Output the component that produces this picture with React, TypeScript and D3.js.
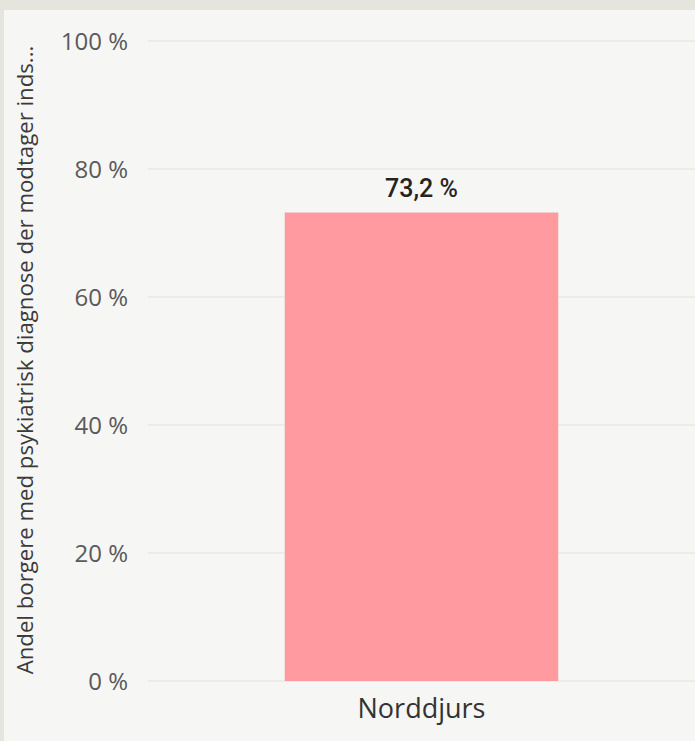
import React, { useEffect, useRef } from "react";
import * as d3 from "d3";

const categories = ["Norddjurs"];
const values = [73.2];
const yTicks = [0, 20, 40, 60, 80, 100];
const axisTitle = "Andel borgere med psykiatrisk diagnose der modtager inds...";

export default function App() {
  const ref = useRef<SVGSVGElement>(null);
  useEffect(() => {
    const W = 695, H = 741;
    const svg = d3.select(ref.current);
    svg.selectAll("*").remove();
    const font = "'Open Sans', 'Segoe UI', sans-serif";
    svg.append("rect").attr("width", W).attr("height", H).attr("fill", "#e6e5dd");
    svg.append("rect").attr("x", 4).attr("y", 10).attr("width", W - 4).attr("height", H - 10).attr("fill", "#f6f6f4");

    const left = 148, right = 695, top = 41, bottom = 681;
    const y = d3.scaleLinear().domain([0, 100]).range([bottom, top]);
    const x = d3.scaleBand().domain(categories).range([left, right]).paddingInner(0.5).paddingOuter(0.25);

    const g = svg.append("g");
    g.selectAll("line.grid").data(yTicks).enter().append("line")
      .attr("x1", left).attr("x2", right)
      .attr("y1", d => y(d)).attr("y2", d => y(d))
      .attr("stroke", "#e8e8e6").attr("stroke-width", 1.5);

    g.selectAll("text.tick").data(yTicks).enter().append("text")
      .attr("x", 128).attr("y", d => y(d) + 9)
      .attr("text-anchor", "end").attr("font-family", font).attr("font-size", 24)
      .attr("fill", "#5a5a5a").text(d => `${d} %`);

    g.selectAll("rect.bar").data(values).enter().append("rect")
      .attr("x", (d, i) => x(categories[i])!)
      .attr("width", x.bandwidth())
      .attr("y", d => y(d)).attr("height", d => bottom - y(d))
      .attr("fill", "#ff9aa0");

    g.selectAll("text.lbl").data(values).enter().append("text")
      .attr("x", (d, i) => x(categories[i])! + x.bandwidth() / 2)
      .attr("y", d => y(d) - 16)
      .attr("text-anchor", "middle").attr("font-family", "Roboto, 'Open Sans', sans-serif").attr("font-size", 25)
      .attr("font-weight", 500)
      .attr("fill", "#252423").text(d => `${d.toFixed(1).replace(".", ",")} %`);

    g.selectAll("text.cat").data(categories).enter().append("text")
      .attr("x", d => x(d)! + x.bandwidth() / 2).attr("y", 718)
      .attr("text-anchor", "middle").attr("font-family", font).attr("font-size", 27)
      .attr("fill", "#333").text(d => d);

    g.append("text")
      .attr("transform", `translate(33, ${(top + bottom) / 2 - 1}) rotate(-90)`)
      .attr("text-anchor", "middle").attr("font-family", font).attr("font-size", 22.2)
      .attr("fill", "#3a3a3a").text(axisTitle);
  }, []);
  return <svg ref={ref} width={695} height={741} style={{ display: "block", position: "absolute", left: 0, top: 0 }} />;
}
